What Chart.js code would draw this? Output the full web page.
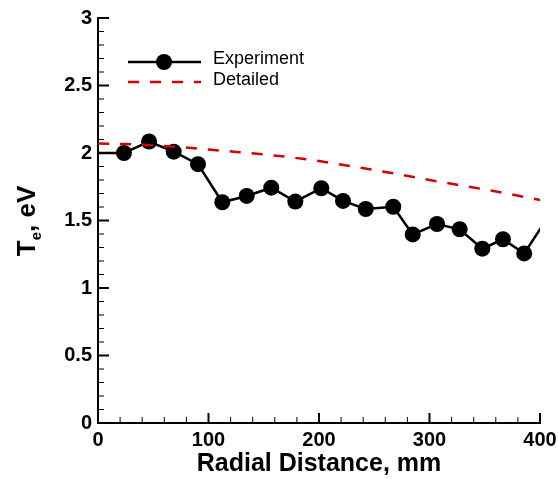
<!DOCTYPE html>
<html>
<head>
<meta charset="utf-8">
<script src="https://cdn.jsdelivr.net/npm/chart.js@4/dist/chart.umd.min.js"></script>
<style>
    html, body { margin: 0; padding: 0; background: #fff; }
    #wrap { width: 558px; height: 479px; }
</style>
</head>
<body>
<div id="wrap"><canvas id="teChart" width="558" height="479"></canvas></div>
<script>
//#region Data
// radial positions (mm) and electron temperature (eV); first/last points sit outside the axis range
const experimentMm = [-20, 23.5, 46.2, 68.5, 90.5, 112.5, 134.6, 156.8, 178.6, 202.1, 221.7, 242.3, 267.2, 284.8, 306.8, 327.3, 347.8, 366.5, 385.7, 410];
const experimentTe = [2.0, 2.0, 2.085, 2.01, 1.917, 1.635, 1.682, 1.743, 1.64, 1.739, 1.645, 1.585, 1.602, 1.397, 1.474, 1.435, 1.291, 1.361, 1.256, 1.56];
const detailedMm = [0, 25, 50, 75, 100, 125, 150, 175, 200, 225, 250, 275, 300, 325, 350, 375, 400];
const detailedTe = [2.07, 2.066, 2.058, 2.044, 2.026, 2.008, 1.99, 1.968, 1.94, 1.908, 1.874, 1.838, 1.80, 1.765, 1.73, 1.692, 1.652];
const seriesNames = ["Experiment", "Detailed"];
const xTickValues = [0, 100, 200, 300, 400];
const yTickValues = [0, 0.5, 1, 1.5, 2, 2.5, 3];
const xTitle = "Radial Distance, mm";
//#endregion

const FONT = "'Liberation Sans', Arial, Helvetica, sans-serif";
const RED = "#d40000";

function toPoints(xs, ys) {
    return xs.map((x, i) => ({ x: x, y: ys[i] }));
}

//#region Plugins
// inward major/minor tick marks like the original plot
const tickMarks = {
    id: "tickMarks",
    afterDraw(chart) {
        const ctx = chart.ctx;
        const x = chart.scales.x;
        const y = chart.scales.y;
        const area = chart.chartArea;
        ctx.save();
        ctx.strokeStyle = "#000";
        for (let v = 0; v <= 400; v += 20) {
            const major = v % 100 === 0;
            const px = x.getPixelForValue(v);
            ctx.lineWidth = major ? 2 : 1;
            ctx.beginPath();
            ctx.moveTo(px, area.bottom);
            ctx.lineTo(px, area.bottom - (major ? 10 : 6));
            ctx.stroke();
        }
        for (let i = 0; i <= 30; i++) {
            const major = i % 5 === 0;
            const py = y.getPixelForValue(i / 10);
            ctx.lineWidth = major ? 2 : 1;
            ctx.beginPath();
            ctx.moveTo(area.left, py);
            ctx.lineTo(area.left + (major ? 11 : 6), py);
            ctx.stroke();
        }
        ctx.restore();
    }
};

// rotated y title with subscript e
const yTitle = {
    id: "yTitle",
    afterDraw(chart) {
        const ctx = chart.ctx;
        const big = "bold 26px " + FONT;
        const small = "bold 15px " + FONT;
        ctx.save();
        ctx.font = big;
        const wT = ctx.measureText("T").width;
        const wRest = ctx.measureText(", eV").width;
        ctx.font = small;
        const wE = ctx.measureText("e").width;
        const total = wT + wE + wRest;
        ctx.translate(35, 221);
        ctx.rotate(-Math.PI / 2);
        ctx.fillStyle = "#000";
        ctx.textBaseline = "alphabetic";
        let cx = -total / 2;
        ctx.font = big;
        ctx.fillText("T", cx, 0);
        cx += wT;
        ctx.font = small;
        ctx.fillText("e", cx, 6);
        cx += wE;
        ctx.font = big;
        ctx.fillText(", eV", cx, 0);
        ctx.restore();
    }
};

// legend inside the plot: line with marker, dashed line
const plotLegend = {
    id: "plotLegend",
    afterDraw(chart) {
        const ctx = chart.ctx;
        ctx.save();
        ctx.lineWidth = 2.5;
        ctx.strokeStyle = "#000";
        ctx.beginPath();
        ctx.moveTo(128, 62);
        ctx.lineTo(201, 62);
        ctx.stroke();
        ctx.fillStyle = "#000";
        ctx.beginPath();
        ctx.arc(164, 62, 8, 0, Math.PI * 2);
        ctx.fill();
        ctx.strokeStyle = RED;
        ctx.setLineDash([11, 11]);
        ctx.beginPath();
        ctx.moveTo(128, 82);
        ctx.lineTo(201, 82);
        ctx.stroke();
        ctx.setLineDash([]);
        ctx.font = "18px " + FONT;
        ctx.textBaseline = "middle";
        ctx.fillStyle = "#000";
        ctx.fillText(seriesNames[0], 213, 59);
        ctx.fillText(seriesNames[1], 213, 80);
        ctx.restore();
    }
};
//#endregion

//#region Chart
function LoadTeChart() {
    const element = document.querySelector("#teChart");
    new Chart(element, {
        type: "scatter",
        data: {
            datasets: [{
                label: seriesNames[1],
                data: toPoints(detailedMm, detailedTe),
                showLine: true,
                borderColor: RED,
                borderWidth: 2.5,
                borderDash: [11, 11],
                pointRadius: 0,
                pointHoverRadius: 0,
                clip: 0
            }, {
                label: seriesNames[0],
                data: toPoints(experimentMm, experimentTe),
                showLine: true,
                borderColor: "#000",
                borderWidth: 2.5,
                pointStyle: "circle",
                pointRadius: 8,
                pointBackgroundColor: "#000",
                pointBorderColor: "#000",
                pointBorderWidth: 0,
                clip: 0
            }]
        },
        options: {
            responsive: false,
            animation: false,
            events: [],
            layout: { padding: { top: 18, right: 18, bottom: 0, left: 0 } },
            plugins: {
                legend: { display: false },
                tooltip: { enabled: false }
            },
            scales: {
                x: {
                    type: "linear",
                    min: 0,
                    max: 400,
                    afterFit(scale) {
                        scale.height = 56;
                        scale.paddingLeft = 0;
                        scale.paddingRight = 0;
                    },
                    afterBuildTicks(scale) {
                        scale.ticks = xTickValues.map(v => ({ value: v }));
                    },
                    grid: { display: false, drawTicks: false },
                    border: { display: true, color: "#000", width: 2 },
                    ticks: {
                        color: "#000",
                        padding: 5,
                        maxRotation: 0,
                        callback: v => String(v),
                        font: { family: FONT, size: 20, weight: "bold" }
                    },
                    title: {
                        display: true,
                        text: xTitle,
                        color: "#000",
                        padding: { top: 0, bottom: 0 },
                        font: { family: FONT, size: 25, weight: "bold" }
                    }
                },
                y: {
                    type: "linear",
                    min: 0,
                    max: 3,
                    afterFit(scale) {
                        scale.width = 98;
                        scale.paddingTop = 0;
                        scale.paddingBottom = 0;
                    },
                    afterBuildTicks(scale) {
                        scale.ticks = yTickValues.map(v => ({ value: v }));
                    },
                    grid: { display: false, drawTicks: false },
                    border: { display: true, color: "#000", width: 2 },
                    ticks: {
                        color: "#000",
                        padding: 6,
                        callback: v => String(v),
                        font: { family: FONT, size: 20, weight: "bold" }
                    }
                }
            }
        },
        plugins: [tickMarks, yTitle, plotLegend]
    });
}

window.addEventListener("DOMContentLoaded", () => {
    LoadTeChart();
});
//#endregion
</script>
</body>
</html>
